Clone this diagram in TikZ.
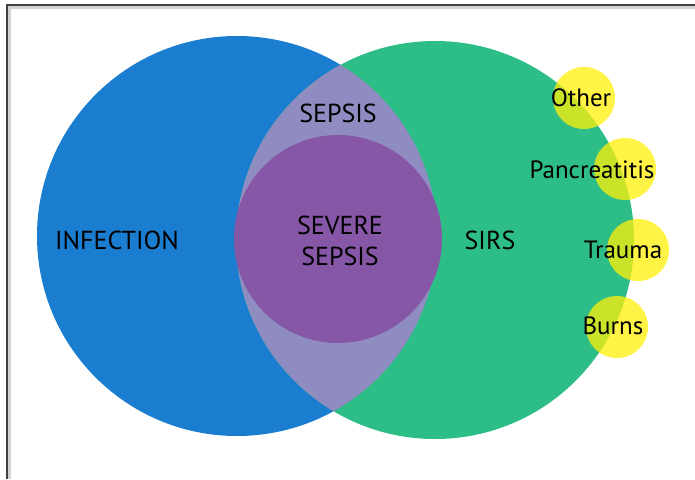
\documentclass[tikz,border=0pt]{standalone}
\usepackage{fontspec}
\setmainfont{PT Sans}
\usepackage{tikz}

\definecolor{infblue}{RGB}{27,125,208}
\definecolor{sirsgreen}{RGB}{45,189,135}
\definecolor{lensgrey}{RGB}{142,140,192}
\definecolor{sevpurple}{RGB}{134,87,167}
\definecolor{causeyellow}{RGB}{255,239,7}

\tikzset{
  bigtext/.style={font=\fontsize{26}{31}\selectfont, align=center},
  smalltext/.style={font=\fontsize{25}{27}\selectfont},
  cause/.style={fill=causeyellow, fill opacity=0.75}
}

\begin{document}
\begin{tikzpicture}[x=1pt,y=-1pt]
		\useasboundingbox (0,0) rectangle (695,479);
		% Coordinates
		\coordinate (C_inf) at (237, 236);
		\coordinate (C_sirs) at (435, 240);
		\coordinate (C_sev) at (338, 239);
		
		\coordinate (C_other) at (584, 98);
		\coordinate (C_panc) at (625, 169);
		\coordinate (C_trauma) at (638, 250);
		\coordinate (C_burns) at (617, 327);
		
		% Frame
		\draw[gray!35, line width=3pt] (9.5,479) -- (9.5,7.5) -- (695,7.5);
		\draw[black!75, line width=1.3pt] (7,479) -- (7,5) -- (695,5);
		
		% Infection and SIRS
		\fill[infblue] (C_inf) circle (200);
		\fill[sirsgreen] (C_sirs) circle (199);
		
		% Sepsis
		\begin{scope}
			\clip (C_inf) circle (200);
			\fill[lensgrey] (C_sirs) circle (199);
		\end{scope}
		
		% Severe sepsis
		\fill[sevpurple] (C_sev) circle (104);
		
		% Causes
		\fill[cause] (C_other) circle (31);
		\fill[cause] (C_panc) circle (31);
		\fill[cause] (C_trauma) circle (31);
		\fill[cause] (C_burns) circle (31);
		
		% Labels
		\node[bigtext] (infection) at (117, 240) {INFECTION};
		\node[bigtext] (sirs) at (490, 240) {SIRS};
		\node[bigtext] (sepsis) at (338, 113) {SEPSIS};
		\node[bigtext] (severe) at (340, 241) {SEVERE\\SEPSIS};
		
		\node[smalltext] (other) at (581, 98) {Other};
		\node[smalltext] (panc) at (592, 170) {Pancreatitis};
		\node[smalltext] (trauma) at (623, 250) {Trauma};
		\node[smalltext] (burns) at (613, 326) {Burns};
	\end{tikzpicture}
\end{document}
